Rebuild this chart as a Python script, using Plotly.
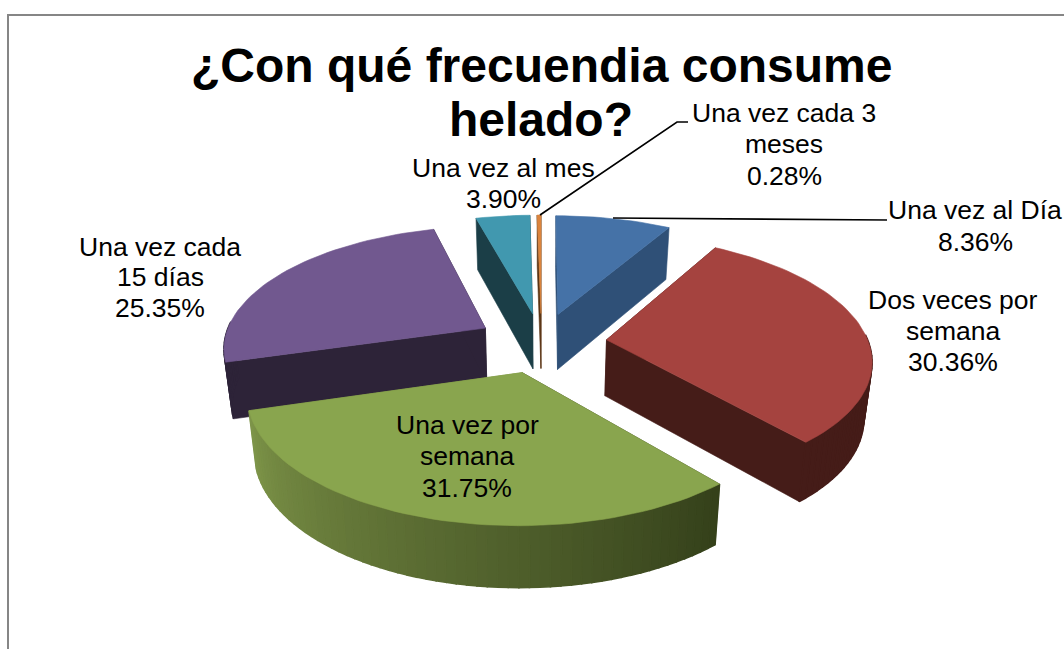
import math
import plotly.graph_objects as go

# Survey shares, clockwise from twelve o'clock
categories = ["Una vez al Día", "Dos veces por semana", "Una vez por semana",
              "Una vez cada 15 días", "Una vez al mes", "Una vez cada 3 meses"]
shares = [8.36, 30.36, 31.75, 25.35, 3.90, 0.28]
share_labels = ["8.36%", "30.36%", "31.75%", "25.35%", "3.90%", "0.28%"]

top_colors = ["#4572A7", "#A5433F", "#89A54E", "#71588F", "#4198AF", "#DB843D"]
# Side shading: (lit end, dark end) across the rim of each slice
side_colors = [("#2F5077", "#2F5077"), ("#451C18", "#451C18"), ("#34401A", "#7E9549"),
               ("#2D2338", "#2D2338"), ("#1B3E47", "#1B3E47"), ("#5A3414", "#5A3414")]
paint_order = [4, 5, 0, 3, 1, 2]

# Projection of the tilted pie on to the page
CX, CY = 541.5, 342.6
AX, BY, PERSP = 262.0, 120.8, 0.147
EXPLODE = 0.25
DEPTH = 56.0
CONVERGE = 0.975


def project(wx, wy, lowered=False):
    w = 1 + PERSP * wy
    sx = CX + AX * wx / w
    sy = CY - BY * wy / w
    if lowered:
        sx = CX + (sx - CX) * CONVERGE
        sy += DEPTH / math.sqrt(w)
    return sx, sy


def mix(c1, c2, t):
    a = [int(c1[i:i + 2], 16) for i in (1, 3, 5)]
    b = [int(c2[i:i + 2], 16) for i in (1, 3, 5)]
    return "#" + "".join(f"{round(p + (q - p) * t):02x}" for p, q in zip(a, b))


def polygon(points, color, edge=0.6):
    xs = [p[0] for p in points] + [points[0][0]]
    ys = [p[1] for p in points] + [points[0][1]]
    return go.Scatter(x=xs, y=ys, mode="lines", fill="toself", fillcolor=color,
                      line=dict(color=color, width=edge), hoverinfo="skip",
                      showlegend=False)


fig = go.Figure()

# Turn the shares into angular spans
spans = []
acc = 0.0
total = sum(shares)
for s in shares:
    start = acc / total * 2 * math.pi
    acc += s
    spans.append((start, acc / total * 2 * math.pi))

for i in paint_order:
    t0, t1 = spans[i]
    mid = (t0 + t1) / 2
    ox, oy = EXPLODE * math.sin(mid), EXPLODE * math.cos(mid)
    n = max(4, int((t1 - t0) * 30))
    angles = [t0 + (t1 - t0) * j / n for j in range(n + 1)]
    rim = [(ox + math.sin(t), oy + math.cos(t)) for t in angles]
    apex = (ox, oy)

    # Straight cut faces first
    lit, dark = side_colors[i]
    for edge, shade in ((rim[0], lit), (rim[-1], dark)):
        fig.add_trace(polygon([project(*apex), project(*edge),
                               project(*edge, lowered=True), project(*apex, lowered=True)], shade))

    # Curved outer wall, only where it faces the viewer
    for j in range(n):
        if math.cos((angles[j] + angles[j + 1]) / 2) < 0.05:
            shade = mix(lit, dark, (j + 0.5) / n)
            fig.add_trace(polygon([project(*rim[j]), project(*rim[j + 1]),
                                   project(*rim[j + 1], lowered=True), project(*rim[j], lowered=True)],
                                  shade, edge=1.6))

    # Top face
    fig.add_trace(polygon([project(*apex)] + [project(*p) for p in rim], top_colors[i]))

LABEL_FONT = dict(family="Liberation Sans, Arial, sans-serif", size=26.5, color="#000000")
TITLE_FONT = dict(family="Liberation Sans, Arial, sans-serif", size=48, color="#000000")

# Label lines: text, centre x, centre y
label_lines = [
    ("Una vez cada 3", 784, 113), ("meses", 784, 144), (share_labels[5], 784, 176),
    ("Una vez al mes", 503, 168), (share_labels[4], 503, 199),
    ("Una vez al Día", 975, 210), (share_labels[0], 975, 242),
    ("Dos veces por", 953, 300), ("semana", 953, 331), (share_labels[1], 953, 362),
    ("Una vez cada", 160, 247), ("15 días", 160, 277), (share_labels[3], 160, 308),
    ("Una vez por", 467, 425), ("semana", 467, 456), (share_labels[2], 467, 488),
]
title_lines = [("¿Con qué frecuendia consume", 541, 65), ("helado?", 541, 119)]

annotations = [dict(x=x, y=y, text=t, xref="x", yref="y", showarrow=False,
                    xanchor="center", yanchor="middle", font=LABEL_FONT)
               for t, x, y in label_lines]
annotations += [dict(x=x, y=y, text=f"<b>{t}</b>", xref="x", yref="y", showarrow=False,
                     xanchor="center", yanchor="middle", font=TITLE_FONT)
                for t, x, y in title_lines]

shapes = [
    dict(type="path", path="M 8 649 L 8 15 L 1064 15", xref="x", yref="y",
         line=dict(color="#868686", width=2)),
    dict(type="path", path="M 688 122 L 677 122 L 540 215", xref="x", yref="y",
         line=dict(color="#000000", width=1.6)),
    dict(type="path", path="M 613 218 L 887 220", xref="x", yref="y",
         line=dict(color="#000000", width=1.6)),
]

fig.update_layout(
    width=1064, height=649, margin=dict(l=0, r=0, t=0, b=0),
    paper_bgcolor="#FFFFFF", plot_bgcolor="#FFFFFF", showlegend=False,
    xaxis=dict(range=[0, 1064], visible=False, fixedrange=True),
    yaxis=dict(range=[649, 0], visible=False, fixedrange=True),
    annotations=annotations, shapes=shapes,
)
fig.write_html("out.html", config=dict(displayModeBar=False))
